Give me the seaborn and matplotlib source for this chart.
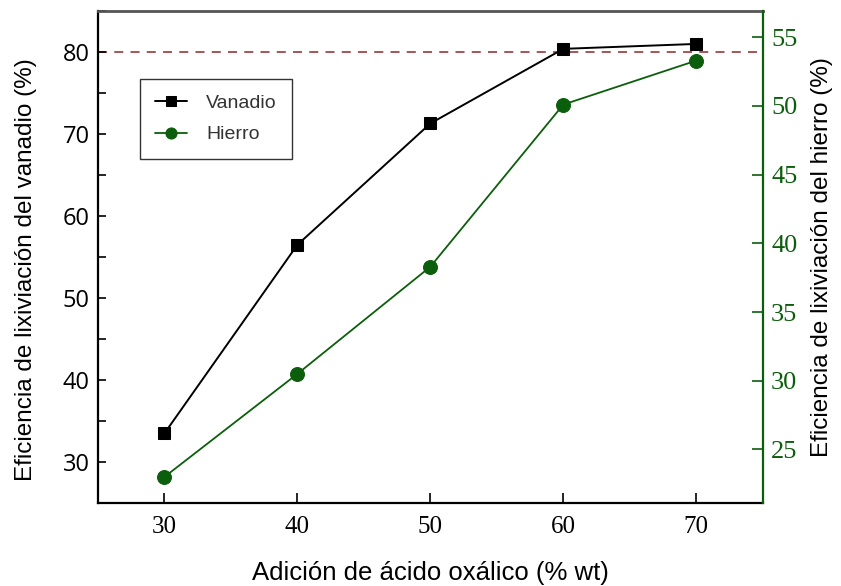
import matplotlib
matplotlib.use("Agg")
import matplotlib.pyplot as plt
import matplotlib.ticker as mticker
import seaborn as sns
import pandas as pd

# data
oxalico = [30, 40, 50, 60, 70]
vanadio = [33.5, 56.5, 71.3, 80.4, 81.0]
hierro = [23.0, 30.5, 38.3, 50.1, 53.3]
linea_ref = 80

verde = "#0b5e0b"
rojo = "#a0464a"

sns.set_theme(style="white")
plt.rcParams["font.family"] = ["Liberation Sans", "DejaVu Sans"]
plt.rcParams["text.color"] = "black"
plt.rcParams["axes.labelcolor"] = "black"
plt.rcParams["xtick.color"] = "black"
plt.rcParams["ytick.color"] = "black"

df = pd.DataFrame({"x": oxalico, "V": vanadio, "Fe": hierro})

fig = plt.figure(figsize=(8.41, 5.86), dpi=100)
ax = fig.add_axes([0.1165, 0.1416, 0.7905, 0.8394])
ax2 = ax.twinx()

sns.lineplot(data=df, x="x", y="V", ax=ax, color="black", marker="s",
             markersize=9, markeredgecolor="black", linewidth=1.4,
             label="Vanadio", legend=False)
sns.lineplot(data=df, x="x", y="Fe", ax=ax2, color=verde, marker="o",
             markersize=10, markeredgecolor=verde, linewidth=1.3,
             label="Hierro", legend=False)

ax.axhline(linea_ref, color=rojo, linestyle=(0, (5, 4)), linewidth=1.3, zorder=0)

ax.set_xlim(25, 75)
ax.set_ylim(25, 85)
ax2.set_ylim(21.1, 56.9)

ax.xaxis.set_major_locator(mticker.MultipleLocator(10))
ax.yaxis.set_major_locator(mticker.MultipleLocator(10))
ax.yaxis.set_minor_locator(mticker.MultipleLocator(5))
ax2.yaxis.set_major_locator(mticker.MultipleLocator(5))

ax.tick_params(axis="x", direction="in", length=7, width=1.2, labelsize=18,
               pad=9, bottom=True, top=False)
ax.tick_params(axis="y", which="both", direction="in", length=6, width=1.2,
               labelsize=17, left=True, right=False, pad=6)
ax2.tick_params(axis="y", direction="in", length=8, width=1.2, labelsize=19,
                colors=verde, right=True, pad=6)
for lab in ax.get_xticklabels() + ax2.get_yticklabels():
    lab.set_family("Liberation Serif")
for lab in ax.get_yticklabels():
    lab.set_family("Open Sans")

for sp in ["left", "bottom"]:
    ax.spines[sp].set_color("black")
    ax.spines[sp].set_linewidth(1.6)
ax.spines["top"].set_color("#555555")
ax.spines["top"].set_linewidth(2)
ax2.spines["top"].set_visible(False)
ax2.spines["left"].set_visible(False)
ax2.spines["bottom"].set_visible(False)
ax.spines["right"].set_visible(False)
ax2.spines["right"].set_color(verde)
ax2.spines["right"].set_linewidth(1.6)

ax.set_xlabel("Adición de ácido oxálico (% wt)", fontsize=18.5, labelpad=17)
ax.set_ylabel("Eficiencia de lixiviación del vanadio (%)", fontsize=17.5)
ax.yaxis.set_label_coords(-0.092, 0.475)
ax2.set_ylabel("Eficiencia de lixiviación del hierro (%)", fontsize=17.5, labelpad=10)

h1, l1 = ax.get_legend_handles_labels()
h2, l2 = ax2.get_legend_handles_labels()
leg = ax2.legend(h1 + h2, l1 + l2, loc="upper left", bbox_to_anchor=(0.063, 0.862),
                 fontsize=14, frameon=True, fancybox=False, edgecolor="black",
                 handlelength=1.6, markerscale=0.8, borderpad=0.8, labelspacing=0.7,
                 handletextpad=1.0, borderaxespad=0)
leg.get_frame().set_linewidth(1.0)
for t in leg.get_texts():
    t.set_color("#333333")

fig.savefig("out.png", dpi=100)
